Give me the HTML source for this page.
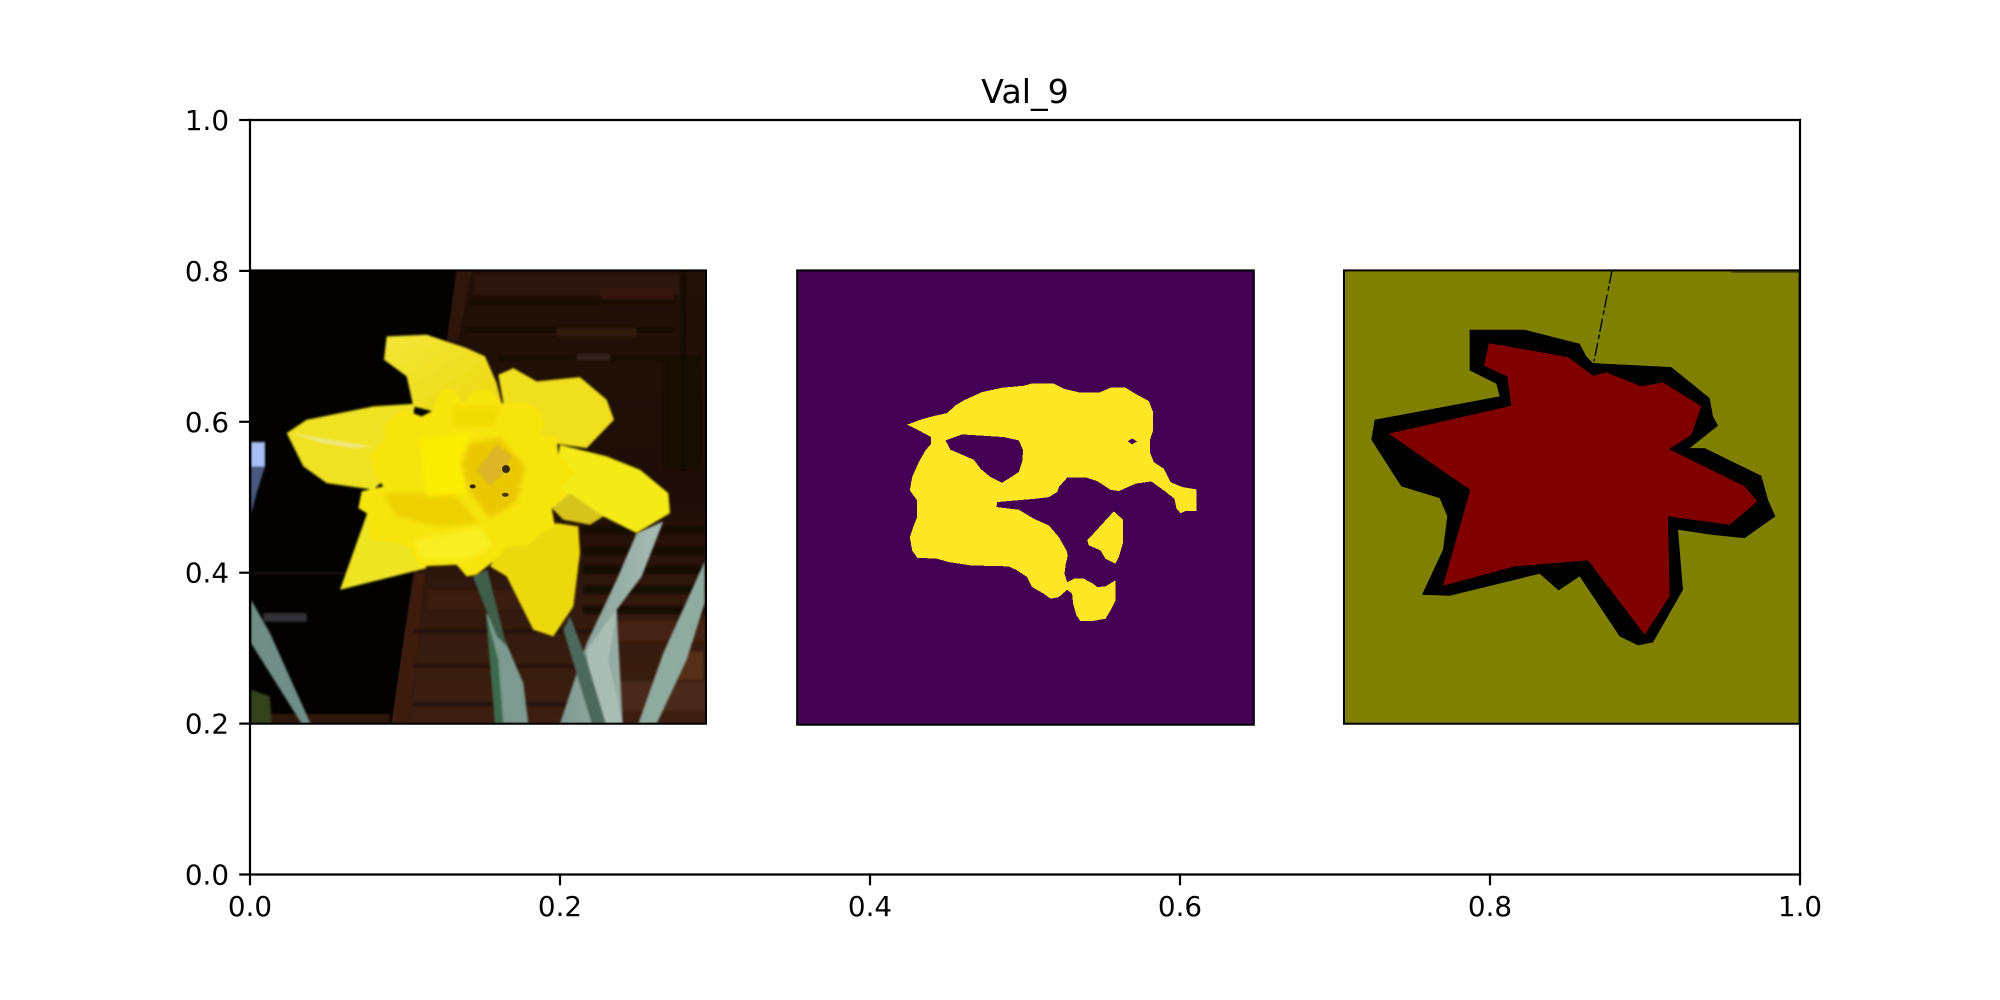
<!DOCTYPE html>
<html lang="en">
<head>
<meta charset="utf-8">
<title>Val_9</title>
<style>
html,body{margin:0;padding:0;background:#fff;width:2000px;height:1000px;overflow:hidden}
svg{display:block}
text{font-family:"DejaVu Sans","Liberation Sans",sans-serif;fill:#000}
</style>
</head>
<body>
<svg id="fig" xmlns="http://www.w3.org/2000/svg" width="2000" height="1000" viewBox="0 0 2000 1000">
<defs>
<filter id="soft" x="-5%" y="-5%" width="110%" height="110%"><feGaussianBlur stdDeviation="3.5"/></filter>
<filter id="softer" x="-10%" y="-10%" width="120%" height="120%"><feGaussianBlur stdDeviation="8"/></filter>
<filter id="softest" x="-30%" y="-30%" width="160%" height="160%"><feGaussianBlur stdDeviation="18"/></filter>
<clipPath id="clip-photo"><rect x="30" y="32" width="1368" height="1360"/></clipPath>
<linearGradient id="wood" x1="0" y1="0" x2="0" y2="1">
<stop offset="0" stop-color="#221108"/><stop offset=".5" stop-color="#1e0e07"/><stop offset=".75" stop-color="#331a0f"/><stop offset="1" stop-color="#3c1f12"/>
</linearGradient>
<linearGradient id="petalgrad" x1="0" y1="0" x2="1" y2="1">
<stop offset="0" stop-color="#f3e638"/><stop offset="1" stop-color="#ecd80e"/>
</linearGradient>
<linearGradient id="leafgrad" x1="0" y1="0" x2="1" y2="0">
<stop offset="0" stop-color="#7f9a92"/><stop offset="1" stop-color="#a8bcb4"/>
</linearGradient>
</defs>

<rect x="0" y="0" width="2000" height="1000" fill="#fff"/>

<g id="panel-photo">
<g clip-path="url(#clip-photo)">
<rect x="30" y="32" width="1368" height="1360" fill="#040201"/>
<polygon points="650,32 1398,32 1398,1392 455,1392" fill="url(#wood)"/>
<g filter="url(#soft)">
<polygon points="650,32 695,32 655,240 622,240" fill="#2f170c"/>
<polygon points="525,940 555,940 505,1392 455,1392" fill="#3e1f11"/>
<rect x="700" y="45" width="620" height="60" fill="#2a140b"/>
<rect x="1080" y="85" width="220" height="50" fill="#35190e"/>
<rect x="690" y="120" width="610" height="12" fill="#120804"/>
<rect x="680" y="205" width="620" height="10" fill="#120804"/>
<rect x="950" y="205" width="240" height="25" fill="#301a0e"/>
<rect x="780" y="290" width="600" height="10" fill="#120804"/>
<rect x="1010" y="282" width="100" height="20" fill="#33201a"/>
<rect x="1270" y="300" width="110" height="330" fill="#1a0c06" opacity=".9"/>
<rect x="1325" y="40" width="10" height="590" fill="#0f0704"/>
<rect x="1030" y="800" width="368" height="22" fill="#140a06"/>
<rect x="1030" y="860" width="368" height="22" fill="#140a06"/>
<rect x="1030" y="918" width="368" height="24" fill="#140a06"/>
<rect x="1030" y="978" width="368" height="24" fill="#140a06"/>
<rect x="1030" y="1038" width="368" height="24" fill="#140a06"/>
<rect x="560" y="990" width="300" height="60" fill="#40200f" opacity=".6"/>
<rect x="520" y="1110" width="600" height="8" fill="#201008"/>
<rect x="520" y="1215" width="600" height="8" fill="#201008"/>
<rect x="520" y="1330" width="650" height="8" fill="#201008"/>
<rect x="1130" y="1085" width="268" height="60" fill="#452414"/>
<rect x="1140" y="1265" width="258" height="90" fill="#4a2a1a"/>
<rect x="1300" y="1175" width="90" height="85" fill="#653820" opacity=".7"/>
<rect x="90" y="1362" width="360" height="30" fill="#2f180d"/>
<rect x="70" y="1060" width="130" height="26" fill="#333335"/>
<rect x="40" y="935" width="330" height="10" fill="#130c09"/>
</g>
<g filter="url(#soft)">
<polygon points="33,620 75,620 50,700 33,765" fill="#4a5880"/>
<rect x="33" y="547" width="42" height="73" fill="#a9bef2"/>
</g>
<g filter="url(#soft)">
<polygon points="33,1020 90,1120 212,1392 185,1392 33,1150" fill="#6f8e86"/>
<polygon points="33,1290 90,1310 95,1392 33,1392" fill="#36421a"/>
<polygon points="738,1060 790,1130 850,1270 865,1392 765,1392" fill="#7b9a8f"/>
<polygon points="738,1060 775,1200 790,1392 765,1392" fill="#3c6b4e"/>
<polygon points="698,950 742,930 800,1160 770,1130" fill="#3f5f4c"/>
<polygon points="1190,820 1270,785 1205,950 1130,1050 1148,1392 1065,1392 1040,1392 960,1392 1040,1150 1130,960" fill="url(#leafgrad)"/>
<polygon points="1040,1170 1130,1050 1105,1200 1148,1392 1065,1392" fill="#aabdb5"/>
<polygon points="970,1110 990,1070 1040,1200 1098,1392 1055,1392" fill="#4d675c"/>
<polygon points="1394,905 1394,1030 1340,1200 1250,1392 1195,1392 1270,1180" fill="#8fab9f"/>
</g>
<g filter="url(#soft)">
<polygon points="440,230 560,225 680,265 735,290 770,370 785,430 600,460 520,440 500,350 432,300" fill="url(#petalgrad)"/>
<polygon points="775,345 820,325 890,365 1020,352 1100,420 1122,480 1040,565 900,545 790,430" fill="#efdf1c"/>
<polygon points="140,520 200,480 400,440 525,432 500,600 400,690 260,670 190,620" fill="#efe224"/>
<polygon points="960,555 1100,590 1200,630 1285,700 1290,760 1190,820 1090,770 930,740" fill="#f4ea12"/>
<polygon points="930,740 990,700 1090,770 1050,795 970,780" fill="#d6c41a"/>
<polygon points="790,860 950,790 1015,800 1020,880 1000,1040 940,1130 880,1110 840,1030 800,950 750,920" fill="#ecd90c"/>
<polygon points="380,765 300,990 560,925 500,830" fill="#ede523"/>
<polygon points="455,475 490,450 545,470 575,455 600,395 640,385 670,430 700,395 750,390 785,430 860,430 895,445 915,490 900,530 950,530 955,585 1005,640 985,660 960,680 985,705 935,745 945,800 905,820 865,855 800,860 780,885 760,905 710,945 680,950 650,915 540,920 500,855 390,840 380,760 355,745 365,695 430,680 400,640 390,590 435,540 430,500" fill="#f6e40a"/>
</g>
<g>
<polygon points="430,700 640,700 720,790 600,800 470,770" fill="#ecd000" filter="url(#softer)"/>
<polygon points="520,840 720,800 760,860 680,900 540,900" fill="#f8ee20" filter="url(#softer)"/>
<polygon points="540,540 690,515 660,620 680,700 560,710" fill="#fcee00" filter="url(#softer)"/>
<polygon points="640,440 780,440 760,500 640,500" fill="#f0dc00" filter="url(#softer)"/>
<polygon points="665,610 690,550 780,535 855,620 830,725 750,775 690,700" fill="#e9c800" filter="url(#softer)"/>
<polygon points="710,630 770,555 815,590 790,640 750,680" fill="#dcb628" filter="url(#soft)"/>
</g>
<ellipse cx="798" cy="628" rx="12" ry="12" fill="#3a2808"/>
<ellipse cx="698" cy="680" rx="9" ry="6" fill="#3a2808"/>
<ellipse cx="796" cy="705" rx="10" ry="6" fill="#4a3408"/>
<polygon points="145,518 270,540 400,560 340,565 250,550" fill="#f0e8a0" opacity=".75" filter="url(#soft)"/>
</g>
<rect x="30" y="32" width="1368" height="1360" fill="none" stroke="#000" stroke-width="6"/>
</g>

<g id="panel-mask">
<rect x="20" y="30" width="1370" height="1363" fill="#440154" stroke="#000" stroke-width="6"/>
<polygon shape-rendering="crispEdges" fill="#fde725" points="350,493 390,478 425,468 470,458 495,435 520,420 575,395 635,382 700,376 725,369 790,370 820,385 870,397 925,397 960,382 1005,382 1040,403 1075,422 1088,455 1088,510 1078,540 1078,575 1090,605 1120,625 1140,665 1175,680 1218,687 1218,752 1185,752 1170,758 1158,745 1152,715 1120,690 1082,663 1035,670 985,692 960,688 920,662 890,652 830,652 805,680 800,695 775,710 735,715 620,725 618,740 685,748 730,775 775,795 805,830 828,870 832,885 826,910 822,940 830,965 850,955 880,955 905,968 920,980 945,978 975,960 975,1020 960,1050 945,1075 905,1082 870,1082 858,1065 848,1030 845,1000 830,988 805,1010 780,1015 760,1000 725,980 710,950 680,930 655,918 540,915 475,905 440,895 380,892 365,870 358,830 370,795 380,770 380,720 358,690 365,650 385,605 405,570 422,550 422,530 385,510"/>
<polygon shape-rendering="crispEdges" fill="#440154" points="465,540 515,522 640,530 685,540 698,570 695,605 685,635 635,667 600,650 570,625 550,598 480,568"/>
<polygon shape-rendering="crispEdges" fill="#440154" points="1012,543 1025,534 1040,543 1025,552"/>
<polygon shape-rendering="crispEdges" fill="#fde725" points="890,840 970,753 998,778 998,845 985,890 975,910 945,895 930,870 895,855"/>
</g>

<g id="panel-truth">
<rect x="28" y="32" width="1367" height="1360" fill="#808000" stroke="#000" stroke-width="6"/>
<polygon fill="#000" points="405,210 570,210 735,252 755,290 775,310 1010,322 1125,415 1135,470 1150,498 1065,565 1110,565 1280,648 1300,720 1322,770 1230,835 1130,825 1030,810 1045,990 955,1148 910,1157 855,1130 735,950 672,992 615,942 345,1008 262,1005 325,870 338,770 315,715 200,680 110,540 120,480 495,410 485,372 405,332"/>
<polygon fill="#800000" points="463,250 700,292 775,348 815,338 920,380 985,368 1100,440 1070,525 1003,568 1230,680 1268,725 1185,795 1000,770 1005,1010 930,1125 760,902 540,920 325,978 407,690 162,522 530,438 518,350 448,318"/>
<line x1="832" y1="32" x2="778" y2="305" stroke="#000" stroke-width="4" stroke-dasharray="40 8 14 12"/>
<line x1="1190" y1="36" x2="1392" y2="36" stroke="#303000" stroke-width="5"/>
</g>

<g id="axes"></g>
<text x="1025" y="103" text-anchor="middle" font-size="33.33">Val_9</text>
</svg>

<script>
const xTickValues = [0.0, 0.2, 0.4, 0.6, 0.8, 1.0];
const yTickValues = [0.0, 0.2, 0.4, 0.6, 0.8, 1.0];
const xTickLabels = ["0.0", "0.2", "0.4", "0.6", "0.8", "1.0"];
const yTickLabels = ["0.0", "0.2", "0.4", "0.6", "0.8", "1.0"];
const panelLeftEdges = [0.0, 0.353, 0.7058];
const panelBottom = 0.2;
const panelTop = 0.8;

const LEFT = 250, RIGHT = 1800, TOP = 120, BOTTOM = 874.5;
function xScale(v) { return LEFT + v * (RIGHT - LEFT); }
function yScale(v) { return BOTTOM - v * (BOTTOM - TOP); }

const NS = "http://www.w3.org/2000/svg";
const axes = document.getElementById("axes");

function makeLine(x1, y1, x2, y2) {
  const l = document.createElementNS(NS, "line");
  l.setAttribute("x1", x1);
  l.setAttribute("y1", y1);
  l.setAttribute("x2", x2);
  l.setAttribute("y2", y2);
  l.setAttribute("stroke", "#000");
  l.setAttribute("stroke-width", "2.2");
  l.setAttribute("stroke-linecap", "square");
  axes.appendChild(l);
  return l;
}

function makeLabel(x, y, anchor, str) {
  const t = document.createElementNS(NS, "text");
  t.setAttribute("x", x);
  t.setAttribute("y", y);
  t.setAttribute("text-anchor", anchor);
  t.setAttribute("font-size", "27.78");
  t.textContent = str;
  axes.appendChild(t);
  return t;
}

/* image panels placed through the axis functions */
const panelIds = ["panel-photo", "panel-mask", "panel-truth"];
const panelOrigins = [[30, 32], [20, 30], [28, 32]];
panelIds.forEach(function (id, i) {
  const px = xScale(panelLeftEdges[i]);
  const py = yScale(panelTop) - 0.5;
  const o = panelOrigins[i];
  document.getElementById(id).setAttribute(
    "transform",
    "translate(" + px + "," + py + ") scale(" + (1 / 3) + ") translate(" + (-o[0]) + "," + (-o[1]) + ")"
  );
});

/* spines */
const spineLeft = makeLine(LEFT, TOP, LEFT, BOTTOM);


const spineRight = makeLine(RIGHT, TOP, RIGHT, BOTTOM);


const spineTop = makeLine(LEFT, TOP, RIGHT, TOP);


const spineBottom = makeLine(LEFT, BOTTOM, RIGHT, BOTTOM);



/* ticks */
xTickValues.forEach(function (v, i) {
  const x = xScale(v);
  const tick = makeLine(x, BOTTOM, x, BOTTOM + 9.7);
  
  
  const label = makeLabel(x, 916, "middle", xTickLabels[i]);
  
  
});
yTickValues.forEach(function (v, i) {
  const y = yScale(v);
  const tick = makeLine(LEFT - 9.7, y, LEFT, y);
  
  
  const label = makeLabel(229, y + 10, "end", yTickLabels[i]);
  
  
});
</script>
</body>
</html>
